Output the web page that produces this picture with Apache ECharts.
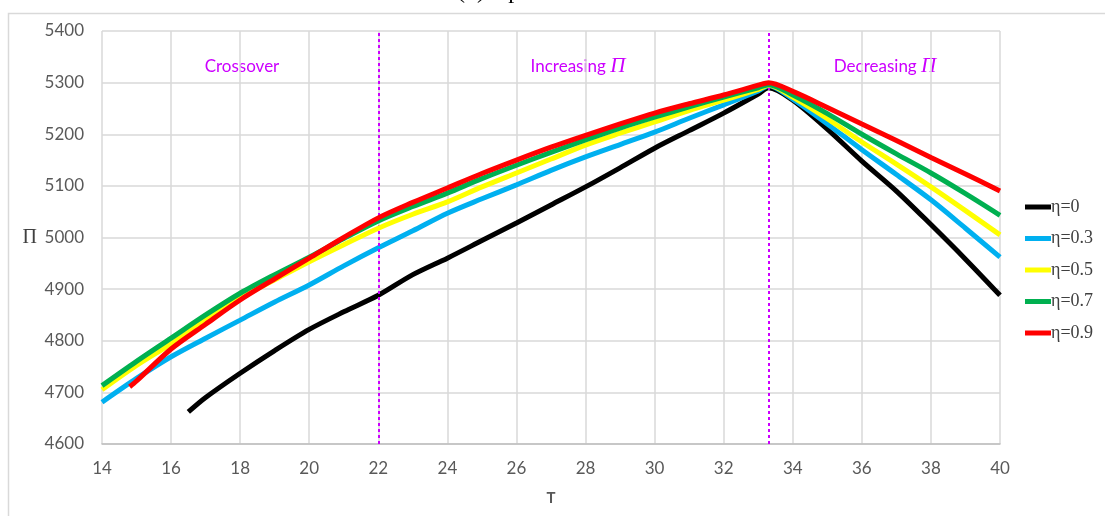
<!DOCTYPE html>
<html>
<head>
<meta charset="utf-8">
<script src="https://cdn.jsdelivr.net/npm/echarts@6/dist/echarts.min.js"></script>
<style>
html, body { margin: 0; padding: 0; background: #fff; }
#main { width: 1105px; height: 516px; }
</style>
</head>
<body>
<div id="main"></div>
<script>
// T values and optimal profit for each eta
var tFull = [14, 15, 16, 17, 18, 19, 20, 21, 22, 23, 24, 25, 26, 27, 28, 29, 30, 31, 32, 33, 33.3, 34, 35, 36, 37, 38, 39, 40];
var tBlack = [16.5, 17, 18, 19, 20, 21, 22, 23, 24, 25, 26, 27, 28, 29, 30, 31, 32, 33, 33.3, 34, 35, 36, 37, 38, 39, 40];
var tRed = [14.8, 15, 16, 17, 18, 19, 20, 21, 22, 23, 24, 25, 26, 27, 28, 29, 30, 31, 32, 33, 33.3, 34, 35, 36, 37, 38, 39, 40];

var eta0 = [4662, 4690, 4737, 4781, 4822, 4856, 4888, 4928, 4960, 4994, 5028, 5063, 5098, 5135, 5173, 5207, 5241, 5278, 5290, 5266, 5210, 5148, 5090, 5025, 4958, 4888];
var eta03 = [4681, 4727, 4769, 4805, 4840, 4875, 4908, 4945, 4980, 5013, 5047, 5075, 5102, 5130, 5156, 5180, 5204, 5231, 5257, 5284, 5294, 5268, 5220, 5170, 5122, 5073, 5018, 4962];
var eta05 = [4705, 4752, 4794, 4840, 4883, 4918, 4953, 4986, 5018, 5045, 5069, 5098, 5125, 5152, 5179, 5202, 5224, 5246, 5266, 5287, 5295, 5272, 5230, 5185, 5142, 5098, 5052, 5005];
var eta07 = [4713, 4760, 4805, 4850, 4892, 4928, 4962, 4998, 5032, 5060, 5086, 5114, 5140, 5165, 5189, 5212, 5233, 5253, 5272, 5290, 5296, 5276, 5240, 5200, 5162, 5125, 5085, 5043];
var eta09 = [4711, 4722, 4784, 4832, 4879, 4920, 4960, 5000, 5038, 5068, 5096, 5124, 5150, 5175, 5198, 5220, 5241, 5259, 5276, 5295, 5300, 5283, 5252, 5220, 5188, 5155, 5123, 5090];

var names = ['η=0', 'η=0.3', 'η=0.5', 'η=0.7', 'η=0.9'];
var colors = ['#000000', '#00b0f0', '#ffff00', '#00b050', '#ff0000'];
var boundaries = [22, 33.3];

function pairs(xs, ys) {
    var out = [];
    for (var i = 0; i < ys.length; i++) out.push([xs[i], ys[i]]);
    return out;
}

var seriesData = [
    pairs(tBlack, eta0),
    pairs(tFull, eta03),
    pairs(tFull, eta05),
    pairs(tFull, eta07),
    pairs(tRed, eta09)
];

var dom = document.getElementById('main');
var myChart = echarts.init(dom);

var series = [];
for (var i = 0; i < names.length; i++) {
    series.push({
        name: names[i],
        type: 'line',
        data: seriesData[i],
        smooth: 0.3,
        showSymbol: false,
        symbol: 'none',
        lineStyle: { color: colors[i], width: 5 },
        itemStyle: { color: colors[i] },
        z: 3 + i
    });
}
// dotted region boundaries
series[0].markLine = {
    silent: true,
    symbol: 'none',
    label: { show: false },
    lineStyle: { color: '#cc00ff', type: [3, 3], width: 2 },
    data: boundaries.map(function (b) { return { xAxis: b }; })
};

var regionText = { fontFamily: 'Lato', fontSize: 17, fill: '#cc00ff' };
var piText = { fontFamily: 'Liberation Serif', fontStyle: 'italic', fontSize: 21, fill: '#cc00ff' };

var option = {
    animation: false,
    backgroundColor: '#fff',
    grid: { left: 102, right: 105, top: 31, bottom: 72 },
    legend: {
        orient: 'vertical',
        left: 1025,
        top: 198,
        padding: 0,
        icon: 'rect',
        itemWidth: 26,
        itemHeight: 5,
        itemGap: 13.5,
        data: names,
        textStyle: { fontFamily: 'Liberation Serif', fontSize: 18, color: '#404040', padding: [0, 0, 0, -5] }
    },
    xAxis: {
        type: 'value',
        min: 14,
        max: 40,
        interval: 2,
        name: 'T',
        nameLocation: 'middle',
        nameGap: 47,
        nameTextStyle: { fontFamily: 'Lato', fontSize: 15, fontWeight: 'bold', color: '#595959' },
        axisLine: { lineStyle: { color: '#bfbfbf', width: 1.5 } },
        axisTick: { show: false },
        axisLabel: { fontFamily: 'Lato', fontSize: 17, color: '#595959', margin: 16 },
        splitLine: { show: true, lineStyle: { color: '#d9d9d9', width: 1.5 } }
    },
    yAxis: {
        type: 'value',
        min: 4600,
        max: 5400,
        interval: 100,
        name: 'Π',
        nameLocation: 'middle',
        nameRotate: 0,
        nameGap: 65,
        nameTextStyle: { fontFamily: 'Liberation Serif', fontSize: 20, color: '#404040' },
        axisLine: { show: false },
        axisTick: { show: false },
        axisLabel: {
            fontFamily: 'Lato', fontSize: 17, color: '#595959', margin: 18,
            formatter: function (v) { return String(v); }
        },
        splitLine: { show: true, lineStyle: { color: '#d9d9d9', width: 1.5 } }
    },
    graphic: [
        {
            type: 'rect',
            silent: true,
            shape: { x: 8.5, y: 13.5, width: 1110, height: 520 },
            style: { fill: 'none', stroke: '#d9d9d9', lineWidth: 1.5 }
        },
        {
            type: 'text',
            x: 552, y: -20,
            style: { text: '(b) Optimal Π vs. T', fontFamily: 'Liberation Serif', fontSize: 24, fill: '#000', align: 'center' }
        },
        {
            type: 'text',
            x: 242, y: 58,
            style: Object.assign({ text: 'Crossover', align: 'center' }, regionText)
        },
        {
            type: 'text',
            x: 578, y: 56,
            style: {
                text: '{a|Increasing }{b|Π}', align: 'center',
                rich: { a: regionText, b: piText }
            }
        },
        {
            type: 'text',
            x: 885, y: 56,
            style: {
                text: '{a|Decreasing }{b|Π}', align: 'center',
                rich: { a: regionText, b: piText }
            }
        }
    ],
    series: series
};

myChart.setOption(option);
</script>
</body>
</html>
